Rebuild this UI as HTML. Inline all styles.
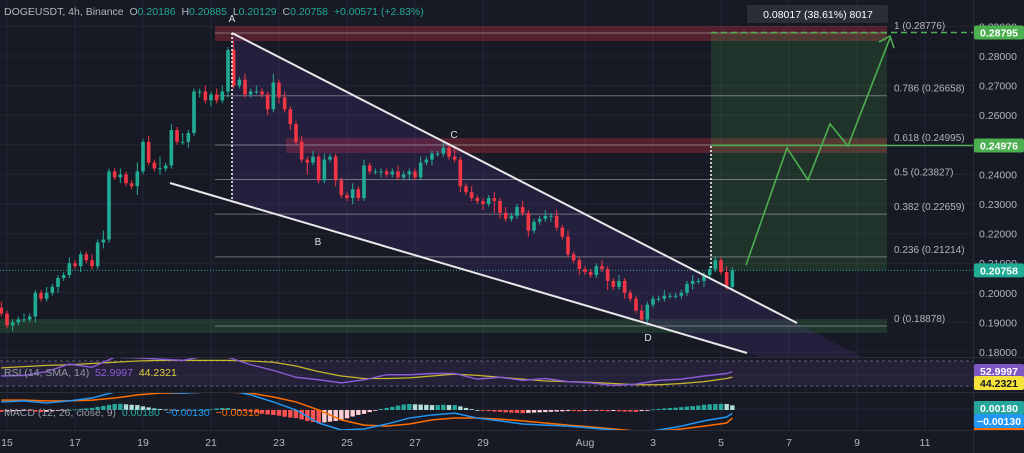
<!DOCTYPE html>
<html><head><meta charset="utf-8">
<style>
html,body{margin:0;padding:0;background:#171a25;}
#wrap{position:relative;width:1024px;height:453px;overflow:hidden;background:#171a25;font-family:"Liberation Sans",sans-serif;}
svg{position:absolute;left:0;top:0;}
text{font-family:"Liberation Sans",sans-serif;}
</style></head>
<body>
<div id="wrap">
<svg id="chart" width="1024" height="453" viewBox="0 0 1024 453"></svg>
</div>
<script>
// ---- data ----
const closes=[193,189,190,191,191,192,200,198,200,202,205,206,210,209,213,211,209,217,218,241,239,240,237,236,241,251,244,242,242,243,255,251,251,254,268,268,265,267,265,268,282,270,272,267,268,268,267,262,271,266,262,257,251,245,244,246,238,245,246,238,233,232,235,232,243,241,241,241,240,241,239,240,241,239,244,245,247,247,249,246,245,236,234,232,231,230,232,231,227,225,226,229,227,221,224,225,226,226,222,219,213,211,208,207,206,209,208,204,202,204,200,198,194,191,196,198,198,199,199,199,200,203,204,204,206,208,211,207,202,207.6];
const firstOpen=195;
const wickHi="2111211121112111213112113121412131112122131212113121121212111121211111211121112131121112121121112121211111211211121112111121111121111".split('').map(Number);
const wickLo="1121112111211121112112113111211112121211211111121212114111121121111211112111211112111214211112111211112111131121112111111121211111".split('').map(Number);
const priceTicks=[0.29,0.28,0.27,0.26,0.25,0.24,0.23,0.22,0.21,0.20,0.19,0.18];
const dateLabels=["15","17","19","21","23","25","27","29","Aug","3","5","7","9","11"];
const dateDays=[0,2,4,6,8,10,12,14,17,19,21,23,25,27];
const fibLevels=[1,0.786,0.618,0.5,0.382,0.236,0];
const fibPrices=[0.28776,0.26658,0.24995,0.23827,0.22659,0.21214,0.18878];
const rsiVals=[46,47,53,65,60,76,75,73,71,78,76,64,55,44,40,35,40,48,48,50,50,41,44,39,42,37,35,31,33,39,41,46,50,53];
const rsiSma=[59,61,63,64,66,68,70,71,71,71,71,70,68,62,53,46,42,42,43,46,49,47,44,41,38,37,36,34,32,32,34,37,42,44.2];
const macdVals=[31,35,27,35,46,69,77,69,65,69,77,58,31,0,-50,-77,-73,-54,-31,-19,-12,-31,-42,-54,-58,-62,-69,-77,-88,-77,-62,-42,-27,-13];
const signalVals=[38,38,35,35,38,46,58,65,65,69,69,65,50,31,0,-38,-58,-62,-54,-38,-31,-31,-35,-42,-50,-58,-65,-73,-81,-81,-73,-62,-50,-31];
const histVals=[-7,-6,-5,-4,-3,-4,-6,-8,-7,-5,-3,-1,0,2,4,6,8,12,16,20,23,24,22,20,19,14,10,6,4,2,1,0,0,-1,0,0,0,3,6,8,8,4,0,-4,-7,-10,-14,-17,-19,-22,-26,-29,-31,-36,-42,-46,-50,-48,-45,-42,-39,-32,-25,-19,-15,-8,-2,4,8,12,17,21,23,22,21,20,19,19,20,19,19,14,8,3,0,-2,-4,-6,-7,-9,-10,-11,-12,-11,-10,-9,-8,-7,-6,-5,-4,-4,-5,-4,-4,-3,-4,-5,-4,-5,-6,-6,-7,-4,-1,2,4,6,8,9,11,13,15,17,20,22,23,24,23,18];

// ---- axes ----
const NS="http://www.w3.org/2000/svg";
const svg=document.getElementById('chart');
const PLOT_R=973;
const yP=p=>56+(0.28-p)*2960;
const xDay=d=>7+34*d;
const xI=i=>xDay((i-1)/6);
const yR=v=>361+(70-v)*0.625;
const yM=v=>410-v*0.26;
function mk(tag,attrs,parent){const e=document.createElementNS(NS,tag);for(const k in attrs)e.setAttribute(k,attrs[k]);(parent||svg).appendChild(e);return e;}
function txt(s,x,y,fill,size,parent,anchor){const t=mk('text',{x:x,y:y,fill:fill,'font-size':size||11,'text-anchor':anchor||'start'},parent);t.textContent=s;return t;}

// clip paths
const defs=mk('defs',{});
const c1=mk('clipPath',{id:'cMain'},defs);mk('rect',{x:0,y:0,width:PLOT_R,height:357},c1);
const c2=mk('clipPath',{id:'cRsi'},defs);mk('rect',{x:0,y:358,width:PLOT_R,height:34},c2);
const c3=mk('clipPath',{id:'cMacd'},defs);mk('rect',{x:0,y:393,width:PLOT_R,height:37},c3);

// grid
const grid=mk('g',{});


dateDays.forEach(d=>{mk('line',{x1:xDay(d),x2:xDay(d),y1:0,y2:430,stroke:'#232632','stroke-width':1},grid);});
priceTicks.forEach(p=>{mk('line',{x1:0,x2:PLOT_R,y1:yP(p),y2:yP(p),stroke:'#232632','stroke-width':1},grid);});
[375,409].forEach(y=>mk('line',{x1:0,x2:PLOT_R,y1:y,y2:y,stroke:'#232632'},grid));
// pane separators
[357,392,430].forEach(y=>{const l=mk('line',{x1:0,x2:1024,y1:y+0.5,y2:y+0.5,stroke:'#2a2e39','stroke-width':1});});
mk('line',{x1:PLOT_R+0.5,x2:PLOT_R+0.5,y1:0,y2:453,stroke:'#2a2e39'});

// main drawings
const main=mk('g',{'clip-path':'url(#cMain)'});


// zones
let z=mk('rect',{x:215,y:26,width:672,height:15,fill:'rgba(242,54,69,0.28)'},main);

z=mk('rect',{x:286,y:138,width:601,height:15,fill:'rgba(242,54,69,0.28)'},main);

z=mk('rect',{x:0,y:319,width:887,height:14,fill:'rgba(76,175,80,0.18)'},main);

z=mk('rect',{x:711,y:yP(0.28795),width:176,height:yP(0.20758)-yP(0.28795),fill:'rgba(76,175,80,0.17)'},main);

// wedge fill
z=mk('polygon',{points:'232,33 862,357 760,357 232,201',fill:'rgba(103,58,183,0.17)'},main);

// fib lines
fibPrices.forEach((p,k)=>{const l=mk('line',{x1:215,x2:887,y1:yP(p),y2:yP(p),stroke:'rgba(180,183,190,0.55)','stroke-width':1},main);
 });
// close price line
z=mk('line',{x1:0,x2:PLOT_R,y1:yP(0.20758),y2:yP(0.20758),stroke:'#22ab94','stroke-width':1,'stroke-dasharray':'1 2'},main);


// candles
const cg=mk('g',{},main);

closes.forEach((c,i)=>{
 const o=i===0?firstOpen:closes[i-1];
 const cl=c/1000,op=o/1000;
 const hi=Math.max(cl,op)+wickHi[i]/1000, lo=Math.min(cl,op)-wickLo[i]/1000;
 const up=cl>=op, col=up?'#22ab94':'#f23645';
 const x=xI(i);
 const g=mk('g',{},cg);
 
 
 mk('line',{x1:x,x2:x,y1:yP(hi),y2:yP(lo),stroke:col,'stroke-width':1},g);
 const t=yP(Math.max(cl,op)),b=yP(Math.min(cl,op));
 mk('rect',{x:x-1.8,y:t,width:3.6,height:Math.max(1,b-t),fill:col},g);
});

// wedge lines
z=mk('line',{x1:232,y1:33,x2:797,y2:323,stroke:'#e8e8ea','stroke-width':2},main);

z=mk('line',{x1:170,y1:183,x2:747,y2:353,stroke:'#e8e8ea','stroke-width':2},main);

z=mk('line',{x1:232,y1:33,x2:232,y2:201,stroke:'#fff','stroke-width':1.5,'stroke-dasharray':'2 2'},main);

z=mk('line',{x1:711,y1:146,x2:711,y2:270,stroke:'#fff','stroke-width':1.5,'stroke-dasharray':'2 2'},main);

// target lines
z=mk('line',{x1:711,y1:yP(0.28795),x2:PLOT_R,y2:yP(0.28795),stroke:'#4caf50','stroke-width':1.5,'stroke-dasharray':'6 4'},svg);

z=mk('line',{x1:711,y1:yP(0.24976),x2:PLOT_R,y2:yP(0.24976),stroke:'#4caf50','stroke-width':1.5},svg);

// projection path
z=mk('polyline',{points:'746,265 787,148 808,180 830,124 848,146 890,38',fill:'none',stroke:'#4caf50','stroke-width':1.6},main);

z=mk('polyline',{points:'879,42 890,36 894,48',fill:'none',stroke:'#4caf50','stroke-width':1.6},main);


// point labels
[['A',232,22],['B',318,245],['C',454,138],['D',648,341]].forEach(a=>{const t=txt(a[0],a[1],a[2],'#e0e0e0',10,main,'middle');});
// fib labels
fibPrices.forEach((p,k)=>{const t=txt(fibLevels[k]+' ('+p.toFixed(5)+')',894,yP(p)-4,'#b2b5be',10,svg);});

// tooltip
const tt=mk('g',{});

mk('rect',{x:747,y:5,width:141,height:18,rx:2,fill:'#2a2e39'},tt);
txt('0.08017 (38.61%) 8017',818,18,'#ffffff',10.5,tt,'middle');

// header
const hd=mk('text',{x:4,y:15,'font-size':10.5,fill:'#b2b5be'});

[['DOGEUSDT, 4h, Binance  ','#b2b5be'],['O','#b2b5be'],['0.20186  ','#22ab94'],['H','#b2b5be'],['0.20885  ','#22ab94'],['L','#b2b5be'],['0.20129  ','#22ab94'],['C','#b2b5be'],['0.20758  ','#22ab94'],['+0.00571 (+2.83%)','#22ab94']].forEach(s=>{const t=mk('tspan',{fill:s[1]},hd);t.setAttribute('xml:space','preserve');t.textContent=s[0].replace(/  $/,'\u00a0\u00a0');});

// ---- RSI pane ----
const rp=mk('g',{'clip-path':'url(#cRsi)'});

mk('rect',{x:0,y:yR(70),width:PLOT_R,height:yR(30)-yR(70),fill:'rgba(126,87,194,0.13)'},rp);
[70,30].forEach(v=>mk('line',{x1:0,x2:PLOT_R,y1:yR(v),y2:yR(v),stroke:'#5d606b','stroke-dasharray':'3 3'},rp));
const rIdx=k=>Math.min(k*4,129);
z=mk('polyline',{points:rsiSma.map((v,k)=>xI(rIdx(k))+','+yR(v)).join(' '),fill:'none',stroke:'#c9b82e','stroke-width':1.2},rp);

z=mk('polyline',{points:rsiVals.map((v,k)=>xI(rIdx(k))+','+yR(v)).join(' '),fill:'none',stroke:'#8b5cd6','stroke-width':1.4},rp);

const rl=mk('text',{x:4,y:376,'font-size':10.5,fill:'#9598a1'});

[['RSI (14, SMA, 14) ','#9598a1'],['52.9997 ','#8b5cd6'],['44.2321','#e3d33a']].forEach(s=>{const t=mk('tspan',{fill:s[1]},rl);t.textContent=s[0].replace(/ $/,'\u00a0\u00a0');});

// ---- MACD pane ----
const mp=mk('g',{'clip-path':'url(#cMacd)'});

histVals.forEach((v,i)=>{
 const prev=i>0?histVals[i-1]:v;
 let col; if(v>=0) col=v>=prev?'#26a69a':'#b2dfdb'; else col=v<=prev?'#ff5252':'#ffcdd2';
 const y0=yM(0),y1=yM(v);
 const r=mk('rect',{x:xI(i)-2.2,y:Math.min(y0,y1),width:4.4,height:Math.max(0.8,Math.abs(y1-y0)),fill:col},mp);
 
 
});
z=mk('polyline',{points:signalVals.map((v,k)=>xI(rIdx(k))+','+yM(v)).join(' '),fill:'none',stroke:'#ff6d00','stroke-width':1.5},mp);

z=mk('polyline',{points:macdVals.map((v,k)=>xI(rIdx(k))+','+yM(v)).join(' '),fill:'none',stroke:'#2196f3','stroke-width':1.5},mp);

const ml=mk('text',{x:4,y:416,'font-size':10.5,fill:'#9598a1'});

[['MACD (12, 26, close, 9) ','#9598a1'],['0.00180 ','#26a69a'],['\u22120.00130 ','#2196f3'],['\u22120.00310','#ff6d00']].forEach(s=>{const t=mk('tspan',{fill:s[1]},ml);t.textContent=s[0].replace(/ $/,'\u00a0\u00a0');});

// ---- price axis ----
const pa=mk('g',{});

priceTicks.forEach(p=>{const t=txt(p.toFixed(5),979,yP(p)+4,'#b2b5be',10.5,pa);});
function tag(label,y,bg,fg,name){const g=mk('g',{});
 mk('rect',{x:974,y:y-7,width:50,height:14,rx:2,fill:bg},g);txt(label,999,y+4,fg,10.5,g,'middle').setAttribute('font-weight','bold');}
tag('0.28795',yP(0.28795),'#4caf50','#fff','target-price-tag');
tag('0.24976',yP(0.24976),'#4caf50','#fff','breakout-price-tag');
tag('0.20758',yP(0.20758),'#22ab94','#fff','last-price-tag');
tag('52.9997',371,'#7e57c2','#fff','rsi-value-tag');
tag('44.2321',383,'#f5e33b','#131722','rsi-sma-value-tag');
tag('0.00180',408,'#26a69a','#fff','macd-hist-tag');
tag('\u22120.00130',421,'#2196f3','#fff','macd-value-tag');
mk('rect',{x:974,y:428,width:50,height:2,fill:'#ff6d00'});

// ---- date axis ----
const da=mk('g',{});

dateLabels.forEach((s,k)=>{const t=txt(s,xDay(dateDays[k]),446,'#b2b5be',10.5,da,'middle');});
</script>
</body></html>
